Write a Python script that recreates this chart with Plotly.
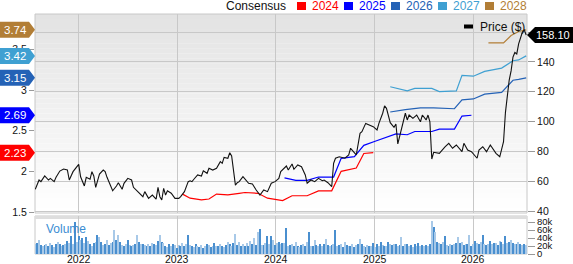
import plotly.graph_objects as go
import pandas as pd

# ---------------- data ----------------
start_date = "2021-07-23"          # first weekly observation
years = ["2022", "2023", "2024", "2025", "2026"]

price_weeks = [0,2,3,5,7,8,10,11,13,15,17,18,20,22,23,24,26,27,29,30,31,32,34,36,37,38,41,43,44,46,
               47,49,51,52,54,56,57,58,60,62,64,65,66,67,68,69,70,72,74,76,77,79,81,82,83,84,86,88,89,91,
               92,94,96,98,99,100,102,103,104,106,107,108,110,113,115,117,119,121,123,125,127,129,130,133,134,136,137,139,141,143,
               144,146,148,150,152,153,155,157,158,159,161,164,166,167,169,170,172,173,175,177,179,181,182,184,185,186,188,190,191,192,
               194,196,197,198,200,202,204,205,207,208,209,210,211,214,217,219,221,223,226,227,229,231,234,235,237,239,241,243,244,246,
               247,248,249,250,251,252,253,254,255,256,257,258,259,260]
price_values = [54.6,60.8,59.7,63.5,60.8,61.9,59.7,62.6,66.8,68.2,67.5,60.8,66.4,69.7,71.3,63.0,56.8,62.6,61.3,66.4,
                63.5,55.9,64.8,67.5,66.4,62.6,53.6,56.8,59.0,54.6,58.6,61.9,60.8,55.9,53.6,51.4,49.6,53.0,48.5,50.7,
                47.9,55.9,49.6,47.4,55.2,50.7,53.6,51.9,48.5,48.5,49.6,53.0,59.7,60.3,59.7,61.3,64.2,63.5,67.0,65.3,
                68.7,67.5,68.7,73.1,72.0,76.0,75.4,79.1,76.9,57.4,59.0,59.7,63.0,58.6,58.1,54.1,50.7,54.1,53.0,58.6,
                59.7,61.9,66.4,70.2,67.5,71.5,68.0,70.9,69.7,64.2,58.6,60.8,59.7,61.9,60.3,60.8,59.0,56.3,72.0,75.4,
                76.4,75.4,77.6,82.1,78.7,77.6,92.1,93.2,98.8,97.7,96.6,94.4,98.8,105.6,110.5,108.9,99.3,96.2,98.4,85.0,
                94.4,105.6,101.1,104.4,102.2,104.4,99.9,104.4,101.1,104.4,99.9,74.9,79.4,78.7,83.1,85.4,82.1,84.3,79.8,85.4,
                80.9,79.8,75.4,80.9,83.1,79.8,84.3,80.9,78.7,76.4,82.1,86.5,106.0,117.8,127.9,134.0,143.3,146.4,145.4,152.1,
                156.8,160.1,161.5,158.1]
last_price = 158.10

eps2024_weeks = [78,82,88,92,96,102,108,111,118,123,131,136,144,150,157,162,170,174,179]
eps2024 = [1.72,1.67,1.65,1.66,1.72,1.71,1.73,1.74,1.73,1.67,1.64,1.70,1.70,1.76,1.76,2.00,2.04,2.22,2.23]
eps2025_weeks = [132,138,144,150,158,162,169,174,180,185,191,197,201,210,214,222,226,231]
eps2025 = [1.92,1.89,1.89,1.93,1.93,2.16,2.18,2.32,2.37,2.41,2.46,2.45,2.49,2.49,2.52,2.52,2.68,2.69]
eps2026_weeks = [188,196,204,211,222,226,232,238,247,253,256,260]
eps2026 = [2.73,2.76,2.78,2.78,2.77,2.88,2.89,2.95,2.97,3.12,3.13,3.15]
eps2027_weeks = [188,197,201,210,214,223,226,232,238,247,253,256,260]
eps2027 = [3.04,2.99,3.02,3.02,2.98,2.99,3.18,3.17,3.23,3.27,3.36,3.37,3.42]
eps2028_weeks = [240,248,252,256,260]
eps2028 = [3.58,3.58,3.67,3.72,3.74]
consensus_years = ["2024", "2025", "2026", "2027", "2028"]
consensus_last = [2.23, 2.69, 3.15, 3.42, 3.74]

volume_k = [24,27,34,22,21,23,25,19,27,22,18,24,29,25,20,22,26,33,28,45,
            24,80,30,45,36,40,28,42,33,24,21,27,31,48,43,29,22,25,34,22,
            27,31,59,36,47,30,23,21,26,34,22,20,23,24,47,29,24,26,22,19,
            25,21,28,26,22,33,47,30,27,21,17,24,20,25,22,16,23,21,28,19,
            24,48,22,21,18,26,20,17,23,16,19,25,22,18,21,27,19,20,24,21,
            17,23,29,24,21,27,51,22,30,20,24,19,28,21,33,24,41,22,55,63,
            23,22,28,44,25,44,35,22,27,30,24,28,27,65,19,22,25,21,31,20,
            18,23,26,21,30,55,21,20,34,23,19,25,21,24,37,22,20,23,24,59,
            20,22,25,18,30,23,21,19,26,17,22,24,38,24,20,18,22,21,19,28,
            17,24,20,29,22,19,21,30,26,22,25,25,19,23,42,20,26,24,19,22,
            18,25,21,27,20,23,19,22,21,24,82,67,55,30,28,26,29,44,23,21,
            25,23,26,27,42,28,31,22,25,25,48,19,26,33,28,24,29,48,25,22,
            26,32,24,28,27,23,33,29,25,45,27,30,34,28,24,26,31,24,22,25,
            23]

# ---------------- helpers ----------------
W, H = 573, 264
ML, MR, MT, MB = 35, 46, 14, 10
PW, PH = W - ML - MR, H - MT - MB
start = pd.Timestamp(start_date)


def wdates(weeks):
    return [start + pd.Timedelta(weeks=int(w)) for w in weeks]


def px(x):
    return (x - ML) / PW


def py(y):
    return (H - MB - y) / PH


FONT = "Arial, Liberation Sans, sans-serif"
c24, c25, c26, c27, c28 = "#ff0000", "#0000ff", "#2462b6", "#3fa0d2", "#b27e36"
ccol = [c24, c25, c26, c27, c28]

fig = go.Figure()
for wk, vals, col in [(eps2024_weeks, eps2024, c24), (eps2025_weeks, eps2025, c25),
                      (eps2026_weeks, eps2026, c26), (eps2027_weeks, eps2027, c27),
                      (eps2028_weeks, eps2028, c28)]:
    fig.add_trace(go.Scatter(x=wdates(wk), y=vals, mode="lines", xaxis="x", yaxis="y",
                             line=dict(color=col, width=1.2), hoverinfo="skip"))

fig.add_trace(go.Scatter(x=wdates(price_weeks), y=price_values, mode="lines", xaxis="x", yaxis="y2",
                         line=dict(color="#111111", width=1.1), hoverinfo="skip"))

vcols = ["#4a8fcf" if i % 2 else "#a8c9e8" for i in range(len(volume_k))]
fig.add_trace(go.Bar(x=wdates(range(len(volume_k))), y=[v * 1000 for v in volume_k], xaxis="x", yaxis="y3",
                     marker=dict(color=vcols, line=dict(width=0)), width=5 * 86400000, hoverinfo="skip"))

price_top_px, price_bot_px = 14, 213
vol_top_px = 216

shapes = []
# gradient background in price panel
N = 40
for i in range(N):
    f = i / (N - 1)
    g = int(round(0xe3 + (0xff - 0xe3) * f))
    shapes.append(dict(type="rect", xref="paper", yref="y domain", x0=0, x1=1,
                       y0=1 - (i + 1) / N, y1=1 - i / N, fillcolor=f"rgb({g},{g},{g})",
                       line=dict(width=0), layer="below"))
shapes.append(dict(type="rect", xref="paper", yref="y domain", x0=0, x1=1, y0=0, y1=1,
                   line=dict(color="#c8c8c8", width=1), layer="below"))
shapes.append(dict(type="rect", xref="paper", yref="y3 domain", x0=0, x1=1, y0=0, y1=1,
                   line=dict(color="#c8c8c8", width=1), layer="below"))
shapes.append(dict(type="rect", xref="paper", yref="y3 domain", x0=0, x1=1, y0=0.92, y1=1.0,
                   fillcolor="#dedede", line=dict(width=0), layer="below"))

annotations = []
# consensus value tags on the left
for val, col in zip(consensus_last, ccol):
    shapes.append(dict(type="path", xref="paper", yref="y", xsizemode="pixel", ysizemode="pixel",
                       xanchor=0, yanchor=val, path="M -35,-8 L -6,-8 L 0,0 L -6,8 L -35,8 Z",
                       fillcolor=col, line=dict(width=0), layer="above"))
    annotations.append(dict(xref="paper", yref="y", x=0, y=val, xshift=-20, text=f"{val:.2f}",
                            showarrow=False, xanchor="center", yanchor="middle",
                            font=dict(family=FONT, size=11.5, color="white")))
# last price tag
shapes.append(dict(type="path", xref="paper", yref="y2", xsizemode="pixel", ysizemode="pixel",
                   xanchor=1, yanchor=last_price, path="M 0,0 L 8,-8 L 46,-8 L 46,8 L 8,8 Z",
                   fillcolor="#000000", line=dict(width=0), layer="above"))
annotations.append(dict(xref="paper", yref="y2", x=1, y=last_price, xshift=26, text=f"{last_price:.2f}",
                        showarrow=False, xanchor="center", yanchor="middle",
                        font=dict(family=FONT, size=11, color="white")))

# top legend
annotations.append(dict(xref="paper", yref="paper", x=px(224), y=py(6), text="Consensus", showarrow=False,
                        xanchor="left", yanchor="middle", font=dict(family=FONT, size=12, color="#111")))
for i, (yr, col) in enumerate(zip(consensus_years, ccol)):
    sx = 297 + 47 * i
    shapes.append(dict(type="rect", xref="paper", yref="paper", x0=px(sx), x1=px(sx + 9),
                       y0=py(10), y1=py(2), fillcolor=col, line=dict(width=0)))
    annotations.append(dict(xref="paper", yref="paper", x=px(sx + 13), y=py(6), text=yr, showarrow=False,
                            xanchor="left", yanchor="middle", font=dict(family=FONT, size=12, color=col)))
# price legend
shapes.append(dict(type="line", xref="paper", yref="paper", x0=px(464), x1=px(473), y0=py(26.5), y1=py(26.5),
                   line=dict(color="#000", width=4)))
annotations.append(dict(xref="paper", yref="paper", x=px(478), y=py(26.5), text="Price ($)", showarrow=False,
                        xanchor="left", yanchor="middle", font=dict(family=FONT, size=12, color="#111")))
# volume label
annotations.append(dict(xref="paper", yref="paper", x=px(44), y=py(229), text="Volume", showarrow=False,
                        xanchor="left", yanchor="middle", font=dict(family=FONT, size=12, color="#3b8dd3")))

tickfont = dict(family=FONT, size=10.5, color="#111")
# year labels under the volume panel
for yr in years:
    annotations.append(dict(xref="x", yref="paper", x=f"{yr}-01-01", y=py(258.5), text=yr, showarrow=False,
                            xanchor="center", yanchor="middle", borderpad=0, font=tickfont))

price_dom0 = (H - MB - price_bot_px) / PH
vol_dom1 = (H - MB - vol_top_px) / PH

fig.update_layout(
    width=W, height=H, margin=dict(l=ML, r=MR, t=MT, b=MB, autoexpand=False),
    paper_bgcolor="white", plot_bgcolor="rgba(0,0,0,0)", showlegend=False,
    bargap=0,
    xaxis=dict(domain=[0, 1], anchor="y3", type="date", range=["2021-07-22", "2026-07-20"],
               tickvals=[f"{y}-01-01" for y in years], ticktext=years, showgrid=True,
               gridcolor="#c8c8c8", gridwidth=1, ticks="", zeroline=False, showline=False,
               showticklabels=False, automargin=False),
    yaxis=dict(domain=[price_dom0, 1], range=[1.4877, 3.935], side="left", anchor="x",
               tickvals=[1.5, 2, 2.5, 3, 3.5], ticktext=["1.5", "2", "2.5", "3", "3.5"],
               showgrid=False, zeroline=False, ticks="outside", ticklen=5, tickcolor="#999",
               tickfont=tickfont, automargin=False),
    yaxis2=dict(overlaying="y", side="right", anchor="x", range=[38.66, 172.2],
                tickvals=[40, 60, 80, 100, 120, 140, 160], ticktext=["40", "60", "80", "100", "120", "140", ""],
                showgrid=True, gridcolor="#c8c8c8", gridwidth=1, zeroline=False,
                ticks="outside", ticklen=7, tickcolor="#999", tickfont=tickfont, automargin=False),
    yaxis3=dict(domain=[0, vol_dom1], side="right", anchor="x", range=[0, 95000],
                tickvals=[0, 20000, 40000, 60000, 80000], ticktext=["0", "20k", "40k", "60k", "80k"],
                showgrid=False, zeroline=False, ticks="outside", ticklen=7, tickcolor="#999",
                tickfont=dict(family=FONT, size=9.5, color="#111"), automargin=False),
    shapes=shapes, annotations=annotations,
)

fig.write_html("out.html")
